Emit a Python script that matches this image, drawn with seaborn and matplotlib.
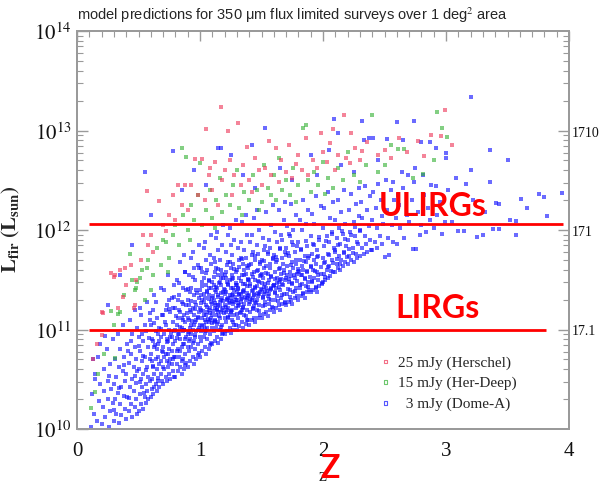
import matplotlib
matplotlib.use("Agg")
import matplotlib.pyplot as plt
import seaborn as sns
import numpy as np
import pandas as pd
from matplotlib.ticker import MultipleLocator, LogLocator, NullFormatter, FixedLocator

# ---------------- data (z, log10 L_fir) ----------------
blue_pts = [
 (0.11,10.02),(0.12,10.35),(0.14,10.15),(0.15,10.55),(0.16,10.08),(0.17,10.72),(0.18,10.28),(0.19,10.45),
 (0.20,10.05),(0.21,10.22),(0.22,10.60),(0.22,10.38),(0.23,10.12),(0.24,10.80),(0.25,10.30),(0.25,10.48),(0.26,10.02),(0.27,10.65),(0.27,10.18),(0.28,10.40),(0.29,10.90),(0.29,10.26),
 (0.30,10.08),(0.30,10.45),(0.31,10.30),(0.31,10.70),(0.32,10.15),(0.32,10.52),(0.33,10.95),(0.33,10.36),(0.34,10.06),(0.34,10.62),(0.35,10.25),(0.35,10.80),(0.36,10.42),(0.36,10.14),(0.37,10.58),(0.37,11.05),(0.38,10.33),(0.38,10.72),(0.39,10.20),(0.39,10.48),
 (0.40,10.10),(0.40,10.55),(0.41,10.32),(0.41,10.85),(0.42,10.18),(0.42,10.66),(0.43,10.42),(0.43,11.10),(0.44,10.25),(0.44,10.75),(0.45,10.50),(0.45,10.12),(0.45,10.95),(0.46,10.38),(0.46,10.62),(0.47,10.22),(0.47,10.82),(0.47,11.20),(0.48,10.46),(0.48,10.30),(0.48,10.70),(0.49,10.15),(0.49,10.58),(0.49,11.02),(0.44,10.88),
 (0.50,10.18),(0.50,10.60),(0.50,10.92),(0.51,10.35),(0.51,10.78),(0.52,10.25),(0.52,10.50),(0.52,11.15),(0.53,10.42),(0.53,10.68),(0.54,10.20),(0.54,10.88),(0.54,10.55),(0.55,10.32),(0.55,11.05),(0.55,10.72),(0.56,10.45),(0.56,10.26),(0.56,10.98),(0.57,10.62),(0.57,10.38),(0.57,11.28),(0.58,10.52),(0.58,10.82),(0.58,10.30),(0.59,10.70),(0.59,10.48),(0.59,11.10),(0.53,10.95),(0.51,11.22),
 (0.60,10.32),(0.60,10.75),(0.60,11.05),(0.61,10.50),(0.61,10.90),(0.61,10.40),(0.62,10.62),(0.62,11.20),(0.62,10.35),(0.63,10.82),(0.63,10.55),(0.63,11.35),(0.64,10.45),(0.64,10.70),(0.64,10.98),(0.65,10.38),(0.65,10.60),(0.65,11.12),(0.66,10.85),(0.66,10.48),(0.66,10.72),(0.67,10.42),(0.67,11.02),(0.67,10.65),(0.68,10.55),(0.68,10.92),(0.68,11.42),(0.69,10.48),(0.69,10.78),(0.69,11.15),(0.62,10.88),(0.64,11.28),(0.66,10.95),(0.68,10.68),(0.61,10.68),(0.63,10.42),(0.65,10.80),(0.67,10.88),
 (0.70,10.45),(0.70,10.82),(0.70,11.15),(0.71,10.60),(0.71,10.95),(0.71,11.40),(0.72,10.52),(0.72,10.75),(0.72,11.05),(0.73,10.68),(0.73,10.48),(0.73,11.25),(0.74,10.88),(0.74,10.62),(0.74,11.55),(0.75,10.55),(0.75,10.80),(0.75,11.00),(0.76,10.70),(0.76,11.18),(0.76,10.50),(0.77,10.92),(0.77,10.65),(0.77,11.32),(0.78,10.58),(0.78,10.85),(0.78,11.08),(0.79,10.72),(0.79,10.52),(0.79,11.45),(0.71,10.72),(0.73,10.90),(0.75,11.30),(0.77,10.78),(0.79,10.98),(0.72,11.20),(0.74,10.75),(0.76,10.92),(0.78,11.22),(0.70,10.62),(0.75,10.66),(0.78,10.70),
 (0.80,10.52),(0.80,10.88),(0.80,11.22),(0.81,10.65),(0.81,11.05),(0.81,11.50),(0.82,10.58),(0.82,10.80),(0.82,11.12),(0.83,10.72),(0.83,10.95),(0.83,11.35),(0.84,10.62),(0.84,10.90),(0.84,11.68),(0.85,10.55),(0.85,10.82),(0.85,11.02),(0.85,11.28),(0.86,10.70),(0.86,10.98),(0.86,11.42),(0.87,10.60),(0.87,10.85),(0.87,11.15),(0.88,10.75),(0.88,11.08),(0.88,11.58),(0.89,10.66),(0.89,10.92),(0.89,11.25),(0.80,11.00),(0.82,10.95),(0.84,11.18),(0.86,10.85),(0.88,10.90),(0.81,10.78),(0.83,11.20),(0.85,10.68),(0.87,11.00),(0.89,11.40),(0.82,11.30),(0.84,10.78),(0.86,11.10),(0.88,10.64),(0.80,10.72),(0.85,11.12),(0.87,11.75),
 (0.90,10.62),(0.90,10.95),(0.90,11.30),(0.91,10.78),(0.91,11.10),(0.91,11.55),(0.92,10.68),(0.92,10.90),(0.92,11.20),(0.93,10.82),(0.93,11.05),(0.93,11.42),(0.94,10.72),(0.94,11.00),(0.94,11.78),(0.95,10.65),(0.95,10.88),(0.95,11.15),(0.95,11.35),(0.96,10.80),(0.96,11.08),(0.96,11.50),(0.97,10.70),(0.97,10.98),(0.97,11.25),(0.98,10.85),(0.98,11.12),(0.98,11.65),(0.99,10.76),(0.99,11.02),(0.99,11.32),(0.90,11.12),(0.91,10.88),(0.92,11.38),(0.93,10.95),(0.94,11.22),(0.95,11.05),(0.96,10.92),(0.97,11.40),(0.98,11.00),(0.99,11.18),(0.90,10.82),(0.92,11.02),(0.94,10.86),(0.96,11.28),(0.98,10.74),(0.91,11.25),(0.93,11.18),(0.95,11.62),(0.97,11.10),(0.99,11.85),(0.93,11.72),
 (1.00,10.72),(1.00,11.05),(1.00,11.40),(1.01,10.88),(1.01,11.20),(1.01,11.62),(1.02,10.78),(1.02,11.00),(1.02,11.30),(1.03,10.92),(1.03,11.15),(1.03,11.52),(1.04,10.82),(1.04,11.10),(1.04,11.88),(1.05,10.75),(1.05,10.98),(1.05,11.25),(1.05,11.45),(1.06,10.90),(1.06,11.18),(1.06,11.60),(1.07,10.80),(1.07,11.08),(1.07,11.35),(1.08,10.95),(1.08,11.22),(1.08,11.75),(1.09,10.86),(1.09,11.12),(1.09,11.42),(1.00,11.22),(1.01,10.98),(1.02,11.48),(1.03,11.05),(1.04,11.32),(1.05,11.15),(1.06,11.02),(1.07,11.50),(1.08,11.10),(1.09,11.28),(1.00,10.92),(1.02,11.12),(1.04,10.96),(1.06,11.38),(1.08,10.84),(1.01,11.35),(1.03,11.28),(1.05,11.70),(1.07,11.20),(1.09,11.95),(1.03,11.82),(1.05,11.08),(1.07,11.42),(1.02,11.58),
 (1.10,10.85),(1.10,11.15),(1.10,11.48),(1.11,10.98),(1.11,11.30),(1.11,11.72),(1.12,10.88),(1.12,11.10),(1.12,11.40),(1.13,11.02),(1.13,11.25),(1.13,11.62),(1.14,10.92),(1.14,11.20),(1.14,11.98),(1.15,10.86),(1.15,11.08),(1.15,11.35),(1.15,11.55),(1.16,11.00),(1.16,11.28),(1.16,11.70),(1.17,10.90),(1.17,11.18),(1.17,11.45),(1.18,11.05),(1.18,11.32),(1.18,11.85),(1.19,10.96),(1.19,11.22),(1.19,11.52),(1.10,11.32),(1.11,11.08),(1.12,11.58),(1.13,11.15),(1.14,11.42),(1.15,11.25),(1.16,11.12),(1.17,11.60),(1.18,11.20),(1.19,11.38),(1.10,11.02),(1.12,11.22),(1.14,11.06),(1.16,11.48),(1.18,10.95),(1.11,11.45),(1.13,11.38),(1.15,11.80),(1.17,11.30),(1.19,12.05),(1.13,11.92),(1.15,11.18),(1.17,11.52),(1.12,11.68),
 (1.20,10.95),(1.20,11.25),(1.20,11.55),(1.21,11.08),(1.21,11.38),(1.21,11.78),(1.22,10.98),(1.22,11.20),(1.22,11.48),(1.23,11.12),(1.23,11.32),(1.23,11.68),(1.24,11.02),(1.24,11.28),(1.24,12.02),(1.25,10.96),(1.25,11.18),(1.25,11.42),(1.25,11.62),(1.26,11.10),(1.26,11.35),(1.26,11.75),(1.27,11.00),(1.27,11.26),(1.27,11.52),(1.28,11.15),(1.28,11.40),(1.28,11.90),(1.29,11.05),(1.29,11.30),(1.29,11.58),(1.20,11.40),(1.21,11.18),(1.22,11.65),(1.23,11.22),(1.24,11.50),(1.25,11.32),(1.26,11.20),(1.27,11.66),(1.28,11.28),(1.29,11.45),(1.20,11.12),(1.22,11.30),(1.24,11.15),(1.26,11.55),(1.28,11.05),(1.21,11.52),(1.23,11.45),(1.25,11.85),(1.27,11.36),(1.29,12.10),(1.23,11.95),
 (1.30,11.00),(1.30,11.30),(1.30,11.60),(1.31,11.12),(1.31,11.42),(1.31,11.82),(1.32,11.04),(1.32,11.25),(1.32,11.52),(1.33,11.18),(1.33,11.36),(1.33,11.72),(1.34,11.08),(1.34,11.32),(1.34,12.08),(1.35,11.02),(1.35,11.22),(1.35,11.46),(1.35,11.66),(1.36,11.15),(1.36,11.40),(1.36,11.80),(1.37,11.06),(1.37,11.30),(1.37,11.56),(1.38,11.20),(1.38,11.44),(1.38,11.95),(1.39,11.10),(1.39,11.34),(1.39,11.62),(1.30,11.45),(1.31,11.24),(1.32,11.70),(1.33,11.28),(1.34,11.55),(1.35,11.38),(1.36,11.26),(1.37,11.72),(1.38,11.32),(1.39,11.50),(1.30,11.16),(1.32,11.36),(1.34,11.20),(1.36,11.60),(1.38,11.10),(1.33,11.88),(1.37,12.15),
 (1.40,11.05),(1.40,11.35),(1.40,11.65),(1.41,11.18),(1.41,11.46),(1.41,11.88),(1.42,11.10),(1.42,11.30),(1.42,11.56),(1.43,11.22),(1.43,11.40),(1.43,11.78),(1.44,11.12),(1.44,11.36),(1.44,12.12),(1.45,11.08),(1.45,11.28),(1.45,11.50),(1.45,11.70),(1.46,11.20),(1.46,11.44),(1.46,11.85),(1.47,11.12),(1.47,11.34),(1.47,11.60),(1.48,11.25),(1.48,11.48),(1.48,12.00),(1.49,11.15),(1.49,11.38),(1.49,11.66),(1.40,11.50),(1.41,11.28),(1.42,11.75),(1.43,11.32),(1.44,11.58),(1.45,11.42),(1.46,11.30),(1.47,11.76),(1.48,11.36),(1.49,11.54),(1.42,11.95),(1.46,12.20),(1.44,11.24),
 (1.50,11.12),(1.50,11.40),(1.50,11.70),(1.51,11.24),(1.51,11.52),(1.51,11.92),(1.52,11.16),(1.52,11.36),(1.52,11.62),(1.53,11.28),(1.53,11.46),(1.53,11.84),(1.54,11.18),(1.54,11.42),(1.54,12.18),(1.55,11.14),(1.55,11.34),(1.55,11.56),(1.55,11.76),(1.56,11.26),(1.56,11.50),(1.56,11.90),(1.57,11.20),(1.57,11.40),(1.57,11.66),(1.58,11.30),(1.58,11.54),(1.58,12.05),(1.59,11.22),(1.59,11.44),(1.59,11.72),(1.50,11.56),(1.52,11.80),(1.53,11.38),(1.54,11.64),(1.56,11.36),(1.57,11.82),(1.58,11.42),(1.59,12.25),(1.51,11.32),
 (1.60,11.18),(1.60,11.45),(1.60,11.75),(1.61,11.30),(1.61,11.58),(1.61,11.98),(1.62,11.22),(1.62,11.42),(1.62,11.68),(1.63,11.34),(1.63,11.52),(1.63,11.88),(1.64,11.25),(1.64,11.48),(1.64,12.20),(1.65,11.20),(1.65,11.40),(1.65,11.62),(1.65,11.82),(1.66,11.32),(1.66,11.56),(1.66,11.95),(1.67,11.26),(1.67,11.46),(1.67,11.72),(1.68,11.36),(1.68,11.60),(1.68,12.10),(1.69,11.28),(1.69,11.50),(1.69,11.78),(1.61,11.38),(1.63,11.70),(1.65,11.50),(1.67,11.90),(1.69,12.28),
 (1.70,11.25),(1.70,11.52),(1.70,11.82),(1.71,11.36),(1.71,11.64),(1.71,12.04),(1.72,11.28),(1.72,11.48),(1.72,11.74),(1.73,11.40),(1.73,11.58),(1.73,11.94),(1.74,11.30),(1.74,11.54),(1.74,12.26),(1.75,11.26),(1.75,11.46),(1.75,11.68),(1.75,11.88),(1.76,11.38),(1.76,11.62),(1.76,12.00),(1.77,11.32),(1.77,11.52),(1.77,11.78),(1.78,11.42),(1.78,11.66),(1.78,12.15),(1.79,11.34),(1.79,11.56),(1.79,11.84),(1.72,11.96),
 (1.80,11.30),(1.80,11.58),(1.80,11.88),(1.81,11.42),(1.81,11.70),(1.81,12.10),(1.82,11.34),(1.82,11.55),(1.82,11.80),(1.83,11.46),(1.83,11.64),(1.83,12.00),(1.84,11.36),(1.84,11.60),(1.84,12.30),(1.85,11.32),(1.85,11.52),(1.85,11.74),(1.86,11.44),(1.86,11.68),(1.86,12.06),(1.87,11.38),(1.87,11.58),(1.87,11.84),(1.88,11.48),(1.88,11.72),(1.88,12.20),(1.89,11.40),
 (1.90,11.38),(1.90,11.64),(1.90,11.94),(1.91,11.48),(1.91,11.76),(1.91,12.16),(1.92,11.40),(1.92,11.60),(1.92,11.86),(1.93,11.52),(1.93,11.70),(1.93,12.06),(1.94,11.42),(1.94,11.66),(1.94,12.34),(1.95,11.38),(1.95,11.58),(1.95,11.80),(1.96,11.50),(1.96,11.74),(1.97,11.44),(1.97,11.90),(1.98,11.56),(1.98,12.24),(1.99,11.46),
 (2.00,11.48),(2.00,11.72),(2.00,12.02),(2.01,11.56),(2.01,11.84),(2.01,12.22),(2.02,11.50),(2.02,11.68),(2.03,11.60),(2.03,11.94),(2.04,11.52),(2.04,11.76),(2.04,12.38),(2.05,11.64),(2.05,11.88),(2.06,11.54),(2.06,12.12),(2.07,11.70),(2.07,11.98),(2.08,11.58),(2.08,12.28),(2.09,11.82),
 (2.10,11.58),(2.10,11.80),(2.10,12.10),(2.11,11.66),(2.11,11.92),(2.12,11.62),(2.12,12.30),(2.13,11.74),(2.13,12.02),(2.14,11.60),(2.14,11.86),(2.15,11.70),(2.15,12.18),(2.16,11.64),(2.16,11.96),(2.17,11.78),(2.17,12.40),(2.18,11.68),(2.18,12.06),(2.19,11.84),
 (2.20,11.66),(2.20,11.90),(2.21,12.20),(2.21,11.74),(2.22,11.98),(2.23,11.70),(2.23,12.36),(2.24,11.82),(2.25,12.08),(2.25,11.68),(2.26,11.94),(2.27,11.76),(2.27,12.26),(2.28,11.88),(2.28,11.72),(2.29,12.14),(2.29,12.42),
 (2.30,11.74),(2.30,12.00),(2.31,12.28),(2.32,11.82),(2.32,12.12),(2.33,11.76),(2.34,11.94),(2.34,12.44),(2.35,11.86),(2.36,12.20),(2.36,11.78),(2.37,12.04),(2.38,11.90),(2.38,12.34),(2.39,11.80),
 (2.40,11.80),(2.40,12.10),(2.41,12.38),(2.42,11.88),(2.43,12.22),(2.44,11.82),(2.44,12.02),(2.45,12.46),(2.46,11.94),(2.47,12.30),(2.48,11.86),(2.48,12.14),(2.49,12.06),
 (2.50,11.73),(2.52,12.20),(2.53,11.92),(2.54,11.75),(2.55,12.40),(2.56,12.05),(2.57,11.88),(2.58,12.30),(2.59,12.12),(2.51,12.50),(2.57,12.48),
 (2.60,11.86),(2.62,12.25),(2.63,12.02),(2.65,12.42),(2.66,11.92),(2.68,12.15),(2.69,12.55),(2.64,12.58),(2.61,12.35),
 (2.70,12.08),(2.72,12.30),(2.73,11.81),(2.74,12.48),(2.76,11.81),(2.77,12.18),(2.79,11.95),(2.75,12.62),
 (2.80,12.05),(2.82,12.35),(2.84,11.98),(2.85,12.22),(2.87,12.10),(2.88,12.45),(2.81,12.55),
 (2.90,12.02),(2.92,12.44),(2.93,12.15),(2.95,12.28),(2.97,11.96),(2.99,12.08),
 (3.02,12.40),(3.05,12.08),(3.06,12.20),(3.08,12.52),(3.10,11.99),
 (3.15,11.99),(3.16,12.46),(3.20,12.60),(3.22,12.30),(3.25,11.93),(3.30,11.95),(3.32,12.18),(3.36,12.48),(3.38,12.01),(3.41,12.27),(3.43,12.01),(3.43,12.26),(3.50,12.70),(3.52,12.10),(3.57,12.09),(3.57,11.95),(3.61,12.31),(3.66,12.22),(3.76,12.36),(3.80,12.33),(3.82,12.14),(3.94,12.37),(3.36,12.80),(3.00,12.77),(3.00,12.72),
 (0.78,12.79),(1.53,13.03),(1.15,12.82),(1.17,12.82),(3.20,13.34),(2.09,13.12),(2.32,13.10),(2.60,13.09),(2.74,13.10),(2.37,12.92),(2.41,12.92),(2.52,12.91),(2.33,12.90),(2.80,12.88),(2.87,12.88),(2.92,12.82),(1.42,12.85),(0.95,12.60),(1.25,12.75),(0.60,12.15),(0.45,11.85),(1.05,12.45),(1.35,12.55),(1.65,12.62),(1.90,12.75),(2.15,12.65),(2.45,12.70),(0.35,11.55),(0.25,11.25),(0.19,10.85),(0.23,10.93),(0.13,10.70),(0.15,10.50),(0.55,12.58),(0.85,12.40),(1.95,12.55),(2.25,12.58),(2.05,12.80),(1.75,12.50),(1.45,12.42),(2.65,12.90),(2.12,12.97),
]

# extra points of the dense core
blue_core_pts = [
 (0.712,11.08),(0.733,10.87),(0.748,11.21),(0.761,10.96),(0.787,11.33),(0.803,11.14),(0.817,10.91),(0.826,11.47),(0.841,11.03),(0.858,11.26),(0.869,10.99),(0.874,11.58),(0.893,11.17),(0.904,11.41),(0.911,10.97),(0.927,11.29),(0.936,11.09),(0.944,11.53),(0.957,11.21),(0.963,10.94),(0.978,11.37),(0.986,11.13),(0.994,11.62),
 (1.006,11.27),(1.013,11.04),(1.019,11.44),(1.027,11.19),(1.034,11.36),(1.041,11.01),(1.047,11.57),(1.053,11.23),(1.058,11.39),(1.064,11.11),(1.071,11.31),(1.076,11.49),(1.083,11.17),(1.089,11.66),(1.094,11.26),(1.098,11.07),
 (1.103,11.34),(1.108,11.19),(1.114,11.53),(1.121,11.27),(1.126,11.09),(1.132,11.43),(1.137,11.21),(1.143,11.61),(1.149,11.33),(1.153,11.14),(1.158,11.47),(1.164,11.24),(1.169,11.37),(1.174,11.03),(1.181,11.56),(1.186,11.29),(1.192,11.41),(1.197,11.17),
 (1.204,11.36),(1.209,11.23),(1.213,11.58),(1.218,11.31),(1.224,11.13),(1.229,11.46),(1.236,11.27),(1.241,11.68),(1.247,11.35),(1.252,11.19),(1.258,11.51),(1.263,11.29),(1.267,11.42),(1.272,11.08),(1.278,11.61),(1.284,11.33),(1.289,11.47),(1.294,11.22),(1.298,11.38),
 (1.305,11.41),(1.309,11.27),(1.314,11.63),(1.319,11.35),(1.325,11.17),(1.331,11.49),(1.336,11.31),(1.342,11.71),(1.347,11.39),(1.353,11.23),(1.358,11.55),(1.363,11.33),(1.368,11.46),(1.373,11.14),(1.379,11.64),(1.385,11.37),(1.391,11.51),(1.396,11.26),
 (1.403,11.44),(1.408,11.31),(1.414,11.66),(1.421,11.39),(1.427,11.21),(1.433,11.53),(1.438,11.35),(1.444,11.74),(1.451,11.43),(1.457,11.27),(1.462,11.59),(1.468,11.37),(1.474,11.49),(1.481,11.19),(1.487,11.68),(1.493,11.41),(1.498,11.55),
 (1.506,11.47),(1.512,11.33),(1.518,11.69),(1.524,11.43),(1.531,11.25),(1.537,11.57),(1.543,11.39),(1.549,11.78),(1.556,11.47),(1.562,11.31),(1.568,11.62),(1.574,11.41),(1.581,11.53),(1.587,11.23),(1.593,11.71),(1.598,11.45),
 (1.606,11.51),(1.613,11.37),(1.619,11.73),(1.626,11.47),(1.632,11.29),(1.639,11.61),(1.645,11.43),(1.652,11.81),(1.658,11.51),(1.664,11.35),(1.671,11.66),(1.678,11.45),(1.684,11.57),(1.691,11.27),(1.697,11.75),
 (1.705,11.55),(1.712,11.41),(1.719,11.77),(1.726,11.51),(1.734,11.33),(1.741,11.65),(1.748,11.47),(1.756,11.85),(1.763,11.55),(1.771,11.39),(1.778,11.70),(1.786,11.49),(1.793,11.61),
 (1.803,11.59),(1.811,11.45),(1.819,11.81),(1.828,11.55),(1.836,11.37),(1.845,11.69),(1.853,11.51),(1.862,11.89),(1.871,11.59),(1.879,11.43),(1.888,11.74),(1.896,11.53),
 (1.905,11.63),(1.914,11.49),(1.923,11.85),(1.933,11.59),(1.942,11.43),(1.952,11.73),(1.961,11.55),(1.971,11.93),(1.981,11.63),(1.991,11.47),
 (2.005,11.67),(2.016,11.53),(2.027,11.89),(2.038,11.63),(2.049,11.75),(2.061,11.59),(2.073,11.96),(2.085,11.67),(2.097,11.78),
 (2.112,11.71),(2.126,11.85),(2.139,11.66),(2.153,11.99),(2.167,11.77),(2.182,11.91),(2.196,11.73),
 (2.214,11.81),(2.231,11.95),(2.247,11.77),(2.263,12.03),(2.281,11.86),(2.298,11.99),
 (0.512,10.47),(0.537,10.73),(0.563,10.59),(0.586,10.91),(0.614,10.63),(0.638,10.84),(0.657,10.51),(0.683,11.01),(0.696,10.77),(0.623,11.07),(0.544,10.36),(0.471,10.53),(0.426,10.31),(0.386,10.64),(0.343,10.41),(0.297,10.19),(0.263,10.53),(0.418,10.78),(0.507,10.83),(0.592,11.17),
]

green_pts = [
 (0.11,10.21),(0.15,10.37),(0.17,10.55),(0.22,10.75),(0.28,11.19),(0.31,10.71),(0.30,11.05),(0.33,11.16),(0.35,11.18),(0.38,11.35),
 (0.43,11.76),(0.45,11.50),(0.47,11.40),(0.48,11.42),(0.49,11.48),(0.51,11.52),(0.53,11.60),(0.55,11.30),(0.57,11.62),(0.58,11.70),
 (0.62,11.55),(0.65,11.82),(0.68,11.65),(0.70,11.90),(0.72,11.88),(0.75,11.72),(0.78,11.95),(0.80,12.05),(0.83,11.85),(0.85,12.82),
 (0.86,12.15),(0.89,12.73),(0.90,12.00),(0.93,12.25),(0.95,12.10),(0.98,12.35),(1.00,12.67),(1.02,12.05),(1.05,12.20),(1.08,12.40),
 (1.10,12.12),(1.13,12.30),(1.16,12.52),(1.18,12.18),(1.21,12.35),(1.24,12.25),(1.27,12.45),(1.30,12.60),(1.32,12.22),(1.36,12.38),
 (1.40,12.30),(1.43,12.55),(1.46,12.40),(1.50,12.28),(1.52,12.65),(1.55,12.42),(1.58,12.35),(1.60,12.55),(1.64,12.72),(1.67,12.40),
 (1.70,12.50),(1.73,12.35),(1.76,12.62),(1.80,12.45),(1.84,13.03),(1.86,13.06),(1.88,12.50),(1.90,12.38),(1.93,12.58),(1.96,12.45),
 (2.00,12.68),(2.04,12.52),(2.08,12.42),(2.12,12.62),(2.16,12.50),(2.20,12.78),(2.25,12.55),(2.30,12.48),(2.35,12.65),(2.40,13.16),
 (2.45,12.58),(2.50,12.65),(2.55,12.85),(2.61,12.81),(2.66,12.81),(2.73,12.52),(2.81,12.56),(2.93,13.19),(2.97,13.03),(3.01,12.93),
 (2.90,12.70),(0.60,11.40),(0.74,11.58),(0.92,11.90),(1.12,12.02),(1.34,12.15),(1.48,12.20),(1.62,12.30),(1.78,12.28),(2.02,12.36),
]

red_pts = [
 (0.13,10.70),(0.16,10.85),(0.20,10.94),(0.20,11.18),(0.21,11.17),(0.28,11.57),(0.31,11.55),(0.30,11.53),(0.33,11.22),(0.37,11.33),
 (0.35,11.60),(0.39,11.62),(0.40,11.45),(0.44,11.65),(0.46,11.22),(0.47,11.25),(0.48,11.50),(0.52,11.70),(0.54,11.95),(0.57,12.39),
 (0.58,11.85),(0.60,11.95),(0.62,11.78),(0.67,12.29),(0.70,12.05),(0.72,11.99),(0.75,12.15),(0.78,12.35),(0.80,12.10),(0.82,12.45),
 (0.85,12.25),(0.88,12.45),(0.90,12.20),(0.93,12.45),(0.96,12.71),(0.98,12.35),(1.02,12.71),(1.04,12.30),(1.05,13.02),(1.07,12.55),
 (1.08,12.62),(1.10,12.40),(1.12,12.68),(1.15,12.25),(1.17,13.24),(1.18,12.50),(1.20,12.60),(1.23,12.99),(1.24,12.70),(1.26,12.35),
 (1.28,12.55),(1.31,13.08),(1.33,12.45),(1.35,12.65),(1.38,12.83),(1.40,12.50),(1.42,12.38),(1.45,12.72),(1.48,12.60),(1.50,12.45),
 (1.53,12.62),(1.56,12.89),(1.58,12.55),(1.62,12.82),(1.64,12.48),(1.66,12.70),(1.70,12.58),(1.72,12.85),(1.75,12.52),(1.78,12.66),
 (1.80,12.75),(1.83,12.60),(1.86,12.92),(1.88,12.55),(1.92,12.70),(1.95,12.62),(1.98,12.97),(2.00,12.78),(2.03,12.68),(2.06,12.87),
 (2.08,13.02),(2.10,12.60),(2.12,12.75),(2.17,13.16),(2.19,12.72),(2.22,12.67),(2.23,12.97),(2.26,12.82),(2.30,12.70),(2.32,12.79),
 (2.36,12.88),(2.45,12.75),(2.50,12.80),(2.55,12.72),(2.62,12.92),(2.68,12.78),(2.77,12.89),(2.82,12.74),(2.88,12.95),(2.96,12.94),
 (2.99,13.21),(3.05,12.85),
]

series_labels = ["25 mJy (Herschel)", "15 mJy (Her-Deep)", "  3 mJy (Dome-A)"]
series_colors = ["#ee3355", "#30b030", "#1010ff"]
threshold_L = [1.15e12, 1.0e11]          # ULIRG / LIRG limits
threshold_z = [(0.1, 3.95), (0.1, 3.81)]
threshold_names = ["ULIRGs", "LIRGs"]
threshold_text_pos = [(2.89, 10**12.25), (2.93, 10**11.22)]
left_ticks = [1e10, 1e11, 1e12, 1e13, 1e14]
left_labels = ["$10^{10}$", "$10^{11}$", "$10^{12}$", "$10^{13}$", "$10^{14}$"]
right_ticks = [1e11, 1e12, 1e13]
right_labels = ["17.1", "171", "1710"]
x_ticks = [0, 1, 2, 3, 4]

def to_df(pts, name):
    return pd.DataFrame({"z": [p[0] for p in pts],
                         "L": [10 ** p[1] for p in pts],
                         "survey": name})

frames = [to_df(blue_pts + blue_core_pts, series_labels[2]),
          to_df(green_pts, series_labels[1]),
          to_df(red_pts, series_labels[0])]
draw_colors = [series_colors[2], series_colors[1], series_colors[0]]
draw_alpha = [0.62, 0.6, 0.6]

# ---------------- figure ----------------
sns.set_style("white")
plt.rcParams["font.family"] = ["Liberation Serif", "DejaVu Serif"]
plt.rcParams["mathtext.fontset"] = "stix"

fig = plt.figure(figsize=(6.01, 4.85), dpi=100)
ax = fig.add_axes([77 / 601, 55 / 485, 492 / 601, 398 / 485])

for df, c, a in zip(frames, draw_colors, draw_alpha):
    sns.scatterplot(data=df, x="z", y="L", ax=ax, color=c, marker="s",
                    s=7, alpha=a, linewidth=0, label=df["survey"].iloc[0], legend=False)

ax.set_yscale("log")
ax.set_xlim(0, 4)
ax.set_ylim(1e10, 1e14)

spine_col = "#9a9a9a"
for sp in ax.spines.values():
    sp.set_color(spine_col)
    sp.set_linewidth(1.3)

ax.xaxis.set_major_locator(FixedLocator(x_ticks))
ax.xaxis.set_minor_locator(MultipleLocator(0.1))
ax.set_xticklabels([str(t) for t in x_ticks])
ax.yaxis.set_major_locator(FixedLocator(left_ticks))
ax.set_yticklabels(left_labels)
ax.yaxis.set_minor_locator(LogLocator(base=10, subs=np.arange(2, 10)))
ax.yaxis.set_minor_formatter(NullFormatter())
ax.tick_params(axis="both", which="both", direction="in", colors=spine_col,
               labelcolor="#111111", top=True, right=False)
ax.tick_params(axis="x", which="major", length=7, width=1, labelsize=15, pad=9)
ax.tick_params(axis="x", which="minor", length=4, width=0.8)
ax.tick_params(axis="y", which="major", length=8, width=1, labelsize=15, pad=4)
ax.tick_params(axis="y", which="minor", length=4, width=0.8)

# right-hand axis (SFR)
ax2 = ax.twinx()
ax2.set_yscale("log")
ax2.set_ylim(1e10, 1e14)
ax2.yaxis.set_major_locator(FixedLocator(right_ticks))
ax2.set_yticklabels(right_labels)
ax2.yaxis.set_minor_locator(LogLocator(base=10, subs=np.arange(2, 10)))
ax2.yaxis.set_minor_formatter(NullFormatter())
for sp in ax2.spines.values():
    sp.set_color(spine_col)
    sp.set_linewidth(1.3)
ax2.tick_params(axis="y", which="both", direction="in", colors=spine_col, labelcolor="#111111")
ax2.tick_params(axis="y", which="major", length=8, width=1, labelsize=10, pad=2)
ax2.tick_params(axis="y", which="minor", length=4, width=0.8)

# threshold lines and labels
for L, (z0, z1), name, (tx, ty) in zip(threshold_L, threshold_z, threshold_names, threshold_text_pos):
    ax.hlines(L, z0, z1, color="red", linewidth=2)
    ax.text(tx, ty, name, color="red", fontsize=23, fontweight="bold",
            family=["Lato", "DejaVu Sans"], ha="center", va="center")

# labels
ax.set_xlabel("z", fontsize=13, color="#222222")
ax.xaxis.set_label_coords((323 - 77) / 492, -(468 - 430) / 398)
ax.set_ylabel(r"$\mathbf{L_{fir}\ (L_{sun})}$", fontsize=15)
ax.yaxis.set_label_coords(-(77 - 22) / 492, (430 - 229) / 398)
fig.text(330 / 601, 1 - 469 / 485, "Z", color="red", fontsize=23, fontweight="bold",
         family=["Lato", "DejaVu Sans"], ha="center", va="center")

fig.text(293 / 601, 1 - 15 / 485,
         "model predictions for 350 \u03bcm flux limited surveys over 1 deg$^2$ area",
         family=["Liberation Sans", "DejaVu Sans"], fontsize=10.5, ha="center", va="center")

# legend
handles, labels = ax.get_legend_handles_labels()
order = [labels.index(l) for l in series_labels]
leg = ax.legend([handles[i] for i in order], [labels[i] for i in order],
                loc="upper left", bbox_to_anchor=((364 - 77) / 492, (430 - 342) / 398),
                frameon=False, fontsize=11, labelspacing=0.45, handletextpad=0.3,
                handlelength=1.0, markerscale=1.0)
for h, c in zip(leg.legend_handles, series_colors):
    h.set_facecolor("none")
    h.set_edgecolor(c)
    h.set_alpha(0.7)
    h.set_linewidth(0.8)

fig.savefig("out.png", dpi=100)
